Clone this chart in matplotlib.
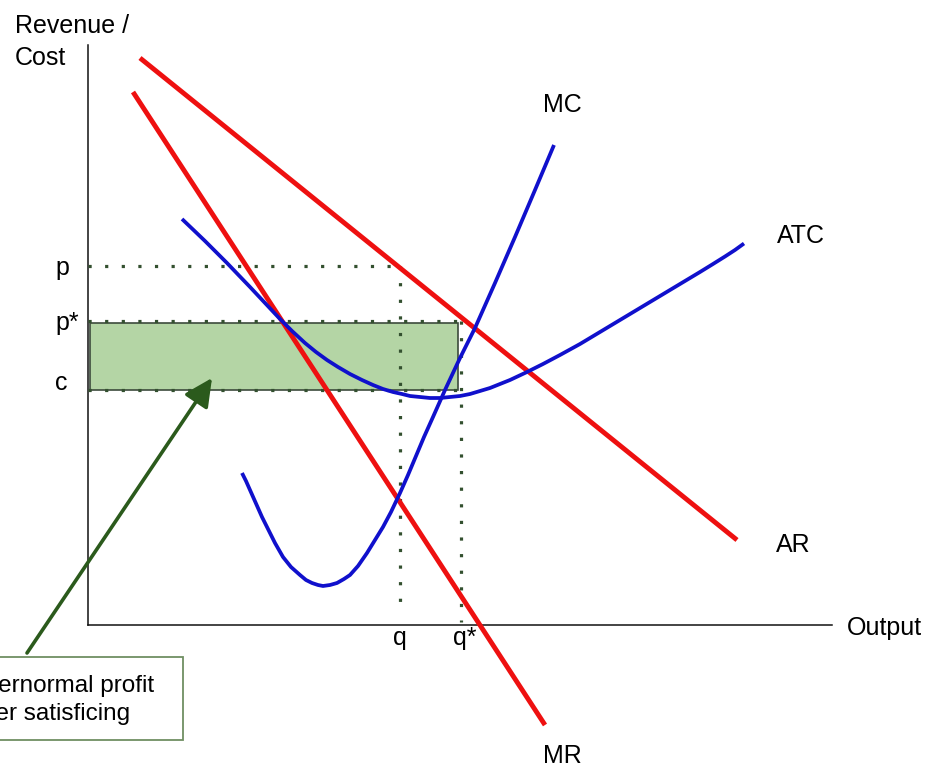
import matplotlib
matplotlib.use("Agg")
import matplotlib.pyplot as plt
from matplotlib.patches import Rectangle

plt.rcParams['font.family'] = ['Liberation Sans', 'DejaVu Sans']

# ---- data (output on x, revenue/cost on y) ----
ar_x = [52, 649]
ar_y = [567, 85]
mr_x = [45, 457]
mr_y = [533, -100]
mc_x = [154, 158, 162, 166, 170, 174, 179, 187, 195, 203, 212, 218, 224, 230, 235, 242, 249, 256,
        262, 270, 279, 287, 295, 303, 312, 320, 328, 336, 345, 357, 372, 387, 407, 427, 447, 466]
mc_y = [152, 144, 135, 126, 117, 108, 98, 82, 68, 58, 50, 45, 42, 40, 39, 40, 42, 46,
        50, 59, 72, 85, 98, 113, 132, 150, 169, 188, 208, 235, 267, 297, 342, 388, 435, 480]
atc_x = [94, 105, 117, 128, 139, 150, 162, 177, 192, 204, 217, 228, 239, 250, 262, 274, 285, 295,
         305, 314, 322, 332, 342, 352, 362, 372, 382, 392, 402, 412, 422, 439, 455, 472, 492, 512,
         537, 562, 587, 612, 625, 637, 647, 656]
atc_y = [406, 395.5, 384, 373, 362, 350.5, 338, 322, 306, 294, 282, 273, 265, 258, 251, 245, 240, 236,
         233, 231, 229, 228, 227, 227, 228, 229, 231, 234, 237, 241, 245, 253, 261, 270, 281, 293,
         308, 323, 338, 353, 361, 368.5, 375, 381.5]

price_p = 359
price_pstar = 304
cost_c = 235
qty_q = 312
qty_qstar = 373

fig = plt.figure(figsize=(9.38, 7.69), dpi=100)
ax = fig.add_axes([0, 0, 1, 1])
ax.set_xlim(-88, 850)
ax.set_ylim(-144, 625)
ax.axis('off')

red = '#ee1010'
blue = '#1010cc'
dotc = '#33502f'

# supernormal profit rectangle
ax.add_patch(Rectangle((2, cost_c), 368, 302 - cost_c, facecolor='#b4d5a5',
                       edgecolor='#3c4a3c', linewidth=1.2, zorder=1))

# axes
ax.plot([0, 0], [0, 580], color='#111111', lw=1.1, zorder=2)
ax.plot([0, 744], [0, 0], color='#111111', lw=1.1, zorder=2)

# dotted guide lines
dstyle = dict(color=dotc, lw=2.3, linestyle=(0, (1, 4.2)), dash_capstyle='butt', zorder=3)
ax.plot([0, qty_q], [price_p, price_p], **dstyle)
ax.plot([0, qty_qstar], [price_pstar, price_pstar], **dstyle)
ax.plot([0, qty_qstar], [cost_c, cost_c], **dstyle)
ax.plot([qty_q, qty_q], [price_p, 20], **dstyle)
ax.plot([qty_qstar, qty_qstar], [price_pstar, 3], **dstyle)

# curves
ax.plot(ar_x, ar_y, color=red, lw=3.5, solid_capstyle='butt', zorder=4)
ax.plot(mr_x, mr_y, color=red, lw=3.5, solid_capstyle='butt', zorder=4)
ax.plot(atc_x, atc_y, color=blue, lw=2.7, solid_joinstyle='round', solid_capstyle='butt', zorder=5)
ax.plot(mc_x, mc_y, color=blue, lw=2.7, solid_joinstyle='round', solid_capstyle='butt', zorder=5)

fs = 18
# axis labels
ax.text(-73, 592, 'Revenue /', fontsize=fs, ha='left', va='baseline')
ax.text(-73, 560, 'Cost', fontsize=fs, ha='left', va='baseline')
ax.text(759, -10, 'Output', fontsize=fs, ha='left', va='baseline')

# curve labels
ax.text(455, 513, 'MC', fontsize=fs, ha='left', va='baseline')
ax.text(689, 382, 'ATC', fontsize=fs, ha='left', va='baseline')
ax.text(688, 73, 'AR', fontsize=fs, ha='left', va='baseline')
ax.text(455, -138, 'MR', fontsize=fs, ha='left', va='baseline')

# price / quantity labels
ax.text(-33, 625 - 275, 'p', fontsize=fs, ha='left', va='baseline')
ax.text(-33, 625 - 330, 'p*', fontsize=fs, ha='left', va='baseline')
ax.text(-33, 625 - 390, 'c', fontsize=fs, ha='left', va='baseline')
ax.text(qty_q, -20, 'q', fontsize=fs, ha='center', va='baseline')
ax.text(qty_qstar + 4, -20, 'q*', fontsize=fs, ha='center', va='baseline')

# annotation box (partly outside the picture, as in the original)
ax.add_patch(Rectangle((-100, -115), 195, 83, facecolor='white',
                       edgecolor='#6f8f62', linewidth=1.3, zorder=6))
ax.text(-133, -67, 'Supernormal profit', fontsize=17.5, ha='left', va='baseline', zorder=7)
ax.text(-133, -95, 'under satisficing', fontsize=17.5, ha='left', va='baseline', zorder=7)

ax.annotate('', xy=(124, 247), xytext=(-61, -28),
            arrowprops=dict(arrowstyle='-|>,head_length=0.85,head_width=0.42',
                            mutation_scale=20, color='#2b5a1c', lw=2.6,
                            shrinkA=0, shrinkB=0),
            zorder=5)

fig.savefig('out.png', dpi=100)
